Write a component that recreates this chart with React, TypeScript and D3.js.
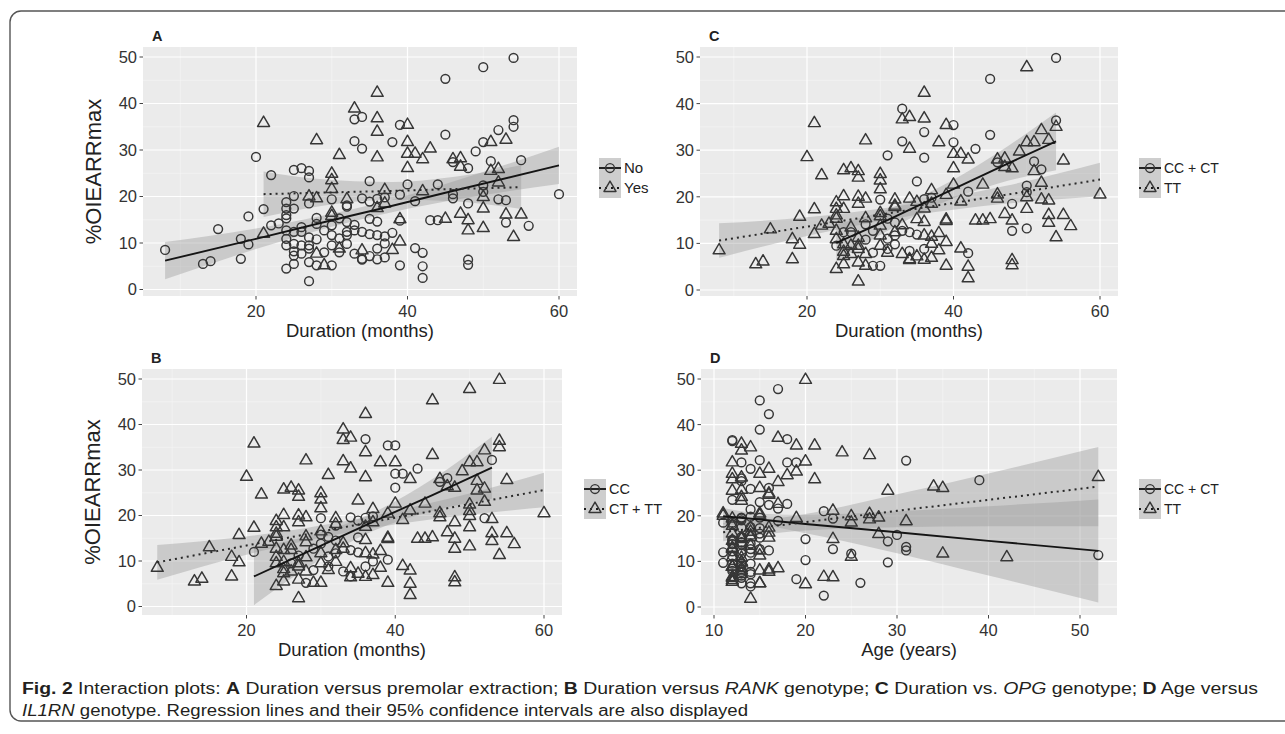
import React from "react";
import * as d3 from "d3";

// ---------- data (one entry per patient) ----------
const duration = [
  8, 13, 14, 15, 18, 18, 19, 19, 20, 21,
  21, 21, 22, 22, 23, 24, 28, 31, 33, 33,
  34, 33, 34, 25, 26, 27, 27, 30, 30, 30,
  30, 32, 32, 27, 28, 27, 24, 24, 25, 24,
  25, 28, 30, 31, 27, 29, 54, 50, 45, 36,
  54, 54, 36, 36, 39, 40, 45, 38, 40, 40,
  41, 43, 42, 36, 40, 52, 53, 50, 51, 49,
  55, 51, 46, 47, 47, 46, 48, 51, 52, 52,
  60, 35, 40, 44, 37, 42, 50, 50, 50, 52,
  53, 46, 34, 35, 36, 36, 37, 39, 41, 48,
  50, 47, 48, 48, 53, 55, 53, 56, 54, 50,
  43, 45, 39, 35, 36, 36, 37, 39, 38, 41,
  42, 42, 42, 39, 48, 48, 34, 35, 36, 37,
  36, 24, 25, 26, 27, 28, 29, 30, 31, 32,
  32, 33, 24, 25, 26, 27, 28, 29, 30, 31,
  32, 33, 34, 25, 26, 27, 28, 30, 24, 25,
  24, 28, 32, 33, 34, 31, 30, 26, 27, 34,
  35, 37, 38, 30, 25, 32, 37, 44, 39, 46,
];
const oiearr = [
  8.5, 5.5, 6.1, 13.0, 6.6, 10.9, 15.7, 9.7, 28.5, 35.8,
  17.3, 12.0, 24.6, 13.8, 14.2, 15.3, 32.1, 28.9, 38.9, 36.6,
  37.1, 31.9, 30.3, 25.7, 26.1, 25.5, 24.1, 24.9, 23.5, 21.6,
  19.4, 19.4, 17.8, 20.0, 19.6, 18.5, 18.8, 17.4, 17.4, 16.0,
  20.1, 15.4, 15.8, 15.3, 1.8, 5.2, 49.8, 47.8, 45.3, 42.3,
  36.4, 35.0, 36.8, 33.9, 35.4, 35.4, 33.3, 31.7, 31.7, 29.2,
  29.2, 30.3, 28.0, 28.4, 26.1, 34.3, 32.2, 31.7, 31.7, 29.7,
  27.8, 27.6, 28.0, 28.2, 26.4, 27.4, 26.1, 25.5, 25.9, 23.0,
  20.5, 23.3, 22.6, 22.6, 21.4, 21.1, 22.4, 21.0, 19.9, 19.4,
  19.2, 19.6, 19.6, 18.9, 19.5, 17.5, 18.5, 20.4, 19.0, 18.5,
  17.4, 16.3, 14.9, 12.7, 16.1, 16.1, 14.4, 13.7, 11.3, 13.2,
  14.9, 15.2, 15.1, 15.2, 14.6, 11.7, 11.4, 10.3, 8.5, 8.9,
  7.9, 5.0, 2.5, 5.2, 6.4, 5.3, 6.4, 7.2, 6.5, 6.9,
  8.8, 12.7, 12.4, 13.4, 11.2, 10.8, 12.7, 11.7, 11.0, 12.4,
  11.7, 12.7, 9.5, 9.8, 9.5, 8.8, 7.7, 8.0, 9.5, 8.8,
  9.8, 7.7, 8.4, 7.3, 7.7, 5.9, 5.2, 5.2, 4.5, 5.5,
  10.9, 14.1, 14.5, 13.9, 12.4, 8.0, 13.8, 12.4, 9.5, 6.6,
  11.9, 9.9, 12.2, 16.5, 8.2, 18.1, 19.8, 14.9, 14.8, 20.5,
];
const age = [
  13, 12, 19, 12, 22, 12, 14, 11, 52, 13,
  15, 11, 16, 12, 13, 14, 31, 18, 15, 12,
  17, 20, 16, 13, 15, 29, 13, 16, 12, 17,
  23, 13, 12, 11, 28, 12, 31, 13, 16, 28,
  15, 13, 30, 13, 14, 14, 20, 17, 15, 16,
  12, 14, 18, 24, 19, 21, 27, 19, 13, 15,
  12, 14, 21, 13, 16, 13, 15, 18, 12, 19,
  39, 13, 12, 13, 34, 17, 35, 12, 14, 15,
  11, 13, 18, 17, 14, 23, 16, 22, 25, 12,
  27, 13, 15, 17, 19, 14, 25, 27, 13, 11,
  14, 16, 20, 23, 12, 15, 29, 13, 15, 31,
  23, 16, 13, 15, 12, 25, 52, 20, 17, 13,
  12, 20, 22, 15, 13, 26, 12, 14, 23, 13,
  12, 12, 13, 14, 12, 13, 15, 13, 25, 31,
  35, 14, 12, 13, 14, 12, 13, 15, 13, 12,
  29, 16, 12, 13, 14, 12, 15, 13, 14, 12,
  42, 13, 12, 14, 16, 13, 12, 15, 13, 12,
  14, 13, 12, 14, 16, 12, 14, 13, 12, 15,
];
// premolar extraction: 0 = No, 1 = Yes
const extraction = [
  0,0,0,0,0,0,0,0,0,1, 0,1,0,0,0,0,1,1,1,0, 0,0,0,0,0,0,0,1,1,1,
  0,1,0,1,1,0,0,0,0,0, 0,0,1,0,0,1,0,0,0,1, 0,0,1,1,0,1,0,0,1,1,
  1,1,1,1,1,0,1,0,1,0, 0,0,1,1,1,0,0,1,1,1, 0,0,0,0,1,1,0,0,1,0,
  0,0,0,0,0,1,1,0,0,0, 1,1,1,1,1,1,0,0,1,1, 0,1,1,0,0,0,0,1,1,0,
  0,0,0,0,0,0,0,0,0,0, 0,0,0,0,0,0,0,0,0,0, 0,0,0,0,0,0,1,0,0,1,
  0,0,1,0,0,0,0,0,0,0, 0,0,0,0,0,0,0,0,0,0, 0,0,0,1,0,0,0,0,0,0,
];
// RANK genotype: 0 = CC, 1 = CT + TT
const rankGenotype = [
  1,1,1,1,1,1,1,1,1,1, 1,0,1,1,1,1,1,1,1,1, 1,1,1,1,1,1,1,1,1,1,
  0,1,0,1,1,1,1,1,1,1, 1,1,0,0,1,1,1,1,1,1, 1,1,0,1,0,0,1,1,1,0,
  0,0,1,1,0,1,0,1,1,1, 1,1,1,0,1,0,1,1,1,1, 1,1,1,1,1,1,1,1,1,0,
  1,1,0,0,0,1,1,1,1,1, 1,1,1,1,1,1,1,1,1,1, 1,1,1,0,1,1,1,0,1,1,
  1,1,1,1,1,1,1,1,1,1, 0,1,1,1,0,1,0,1,0,1, 0,1,1,1,0,1,1,0,1,0,
  1,0,1,1,1,1,0,1,1,1, 1,1,0,1,0,1,0,1,1,0, 0,0,1,1,1,1,0,1,1,1,
];
// OPG genotype: 0 = CC + CT, 1 = TT
const opgGenotype = [
  1,1,1,1,1,1,1,1,1,1, 1,1,1,1,1,1,1,0,0,1, 1,0,1,1,1,1,1,1,1,1,
  0,1,1,1,1,1,1,1,1,1, 1,1,1,0,1,0,0,1,0,1, 0,1,1,0,1,0,0,1,0,1,
  1,0,1,0,1,1,1,1,1,1, 1,0,1,1,1,0,1,1,0,1, 1,0,1,1,1,0,0,0,1,1,
  1,1,1,1,0,1,1,1,1,0, 1,1,1,0,1,1,1,1,1,0, 1,1,1,1,1,1,1,1,1,1,
  0,1,1,1,1,1,1,1,1,1, 0,1,0,1,1,0,0,1,0,1, 0,0,0,1,1,1,1,0,1,0,
  0,1,0,1,1,1,1,0,1,1, 1,0,0,1,0,1,1,0,1,1, 0,1,1,1,1,1,0,1,1,1,
];
// IL1RN genotype: 0 = CC + CT, 1 = TT
const il1rnGenotype = [
  1,1,0,1,1,1,1,0,1,1, 0,0,1,0,0,1,0,1,0,0, 1,1,1,1,1,1,1,1,0,0,
  0,0,1,1,1,0,1,0,1,1, 1,0,0,0,1,0,1,0,0,0, 0,1,0,1,1,1,1,0,0,1,
  1,0,1,1,0,1,0,0,1,1, 0,0,1,0,1,1,1,1,0,0, 1,1,0,1,0,1,0,0,1,1,
  1,0,0,0,1,0,1,1,0,0, 1,1,0,0,1,0,0,0,1,0, 1,1,1,0,0,0,0,0,1,0,
  0,1,0,1,0,0,1,0,1,0, 1,1,0,1,0,1,0,0,1,0, 1,0,0,1,0,1,0,1,0,1,
  0,1,0,1,0,1,1,0,0,1, 1,0,1,0,0,1,0,1,0,1, 0,1,0,1,1,0,0,1,0,1,
];

const durationTicks = [20, 40, 60];
const ageTicks = [10, 20, 30, 40, 50];
const oiearrTicks = [0, 10, 20, 30, 40, 50];

// fitted regression lines with 95% CI: [x, fit, lower, upper]
type Fit = [number, number, number, number][];
const fitExtractionNo: Fit = [[8, 6.2, 2.2, 10.2], [20, 10.9, 8.7, 13.1], [30, 14.9, 13.5, 16.3], [36, 17.2, 15.9, 18.5], [45, 20.8, 18.9, 22.7], [60, 26.7, 22.7, 30.7]];
const fitExtractionYes: Fit = [[21, 20.5, 15.6, 25.4], [28, 20.8, 17.8, 23.8], [38, 21.2, 19.3, 23.1], [46, 21.6, 19.0, 24.2], [55, 22.0, 17.3, 26.7]];
const fitRankCC: Fit = [[21, 6.6, 0.3, 12.9], [29, 12.6, 9.4, 15.8], [37, 18.6, 16.6, 20.6], [45, 24.5, 21.0, 28.0], [53, 30.5, 23.7, 37.3]];
const fitRankCTTT: Fit = [[8, 9.7, 5.9, 13.5], [20, 13.4, 11.4, 15.4], [35, 18.0, 16.7, 19.3], [47, 21.6, 19.6, 23.6], [60, 25.6, 21.8, 29.4]];
const fitOpgCCCT: Fit = [[24, 10.1, 6.1, 14.1], [31, 15.0, 12.7, 17.3], [38, 20.2, 18.4, 22.0], [46, 26.1, 22.8, 29.4], [54, 31.9, 25.7, 38.1]];
const fitOpgTT: Fit = [[8, 10.6, 6.9, 14.3], [20, 13.6, 11.6, 15.6], [34, 17.2, 15.9, 18.4], [47, 20.4, 18.5, 22.3], [60, 23.7, 20.1, 27.3]];
const fitIl1rnCCCT: Fit = [[11, 19.9, 18.1, 21.7], [15, 19.2, 17.9, 20.5], [20, 18.2, 16.2, 20.2], [30, 16.4, 11.8, 21.0], [40, 14.5, 6.9, 22.1], [52, 12.3, 1.0, 23.6]];
const fitIl1rnTT: Fit = [[11, 16.4, 14.4, 18.4], [15, 17.4, 15.8, 19.0], [20, 18.6, 16.8, 20.4], [30, 21.1, 17.5, 24.7], [40, 23.5, 17.7, 29.3], [52, 26.4, 17.7, 35.1]];

// ---------- styling ----------
const FONT = "Arial, 'Liberation Sans', Helvetica, sans-serif";
const PANEL_BG = "#ebebeb";
const RIBBON = "#999999";
const RIBBON_OP = 0.4;
const POINT_STROKE = "#363636";
const TRI = "M0,-6.9L6,3.45L-6,3.45Z";

interface PanelSpec {
  label: string;
  x0: number; x1: number; y0: number; y1: number;
  xTicks: number[]; xPix: [number, number]; yPix: [number, number];
  xs: number[]; groups: number[];
  fits: [Fit, Fit];
  legend: [string, string]; legX: number; legY: number; legFont: number;
  xTitle: string; yTitle?: string;
}

function Marker({ cx, cy, g }: { cx: number; cy: number; g: number }) {
  return g === 0 ? (
    <circle cx={cx} cy={cy} r={4.4} fill="none" stroke={POINT_STROKE} strokeWidth={1.45} />
  ) : (
    <path d={TRI} transform={`translate(${cx},${cy})`} fill="none" stroke={POINT_STROKE} strokeWidth={1.45} strokeLinejoin="round" />
  );
}

function Panel(p: PanelSpec) {
  const x = d3.scaleLinear().domain([p.xTicks[0], p.xTicks[p.xTicks.length - 1]]).range(p.xPix);
  const y = d3.scaleLinear().domain([0, 50]).range(p.yPix);
  const xStep = p.xTicks[1] - p.xTicks[0];
  const xMinor = d3.range(p.xTicks[0] - xStep / 2, p.xTicks[p.xTicks.length - 1] + xStep, xStep)
    .filter((v) => x(v) > p.x0 && x(v) < p.x1);
  const yMinor = d3.range(-5, 60, 10).filter((v) => y(v) > p.y0 && y(v) < p.y1);
  const area = d3.area<[number, number, number, number]>()
    .x((d) => x(d[0])).y0((d) => y(d[2])).y1((d) => y(d[3])).curve(d3.curveMonotoneX);
  const line = d3.line<[number, number, number, number]>().x((d) => x(d[0])).y((d) => y(d[1]));
  const idx = d3.range(p.xs.length);
  const cx = (p.x0 + p.x1) / 2;
  const cy = (p.y0 + p.y1) / 2;
  const keyW = 22, keyH = 20;
  return (
    <g>
      <text x={p.x0 + 9} y={p.y0 - 6} fontFamily={FONT} fontWeight="bold" fontSize={14.5} fill="#222">{p.label}</text>
      <rect x={p.x0} y={p.y0} width={p.x1 - p.x0} height={p.y1 - p.y0} fill={PANEL_BG} />
      {xMinor.map((v) => <line key={"xm" + v} x1={x(v)} x2={x(v)} y1={p.y0} y2={p.y1} stroke="#f7f7f7" strokeWidth={0.6} />)}
      {yMinor.map((v) => <line key={"ym" + v} x1={p.x0} x2={p.x1} y1={y(v)} y2={y(v)} stroke="#f7f7f7" strokeWidth={0.6} />)}
      {p.xTicks.map((v) => <line key={"xM" + v} x1={x(v)} x2={x(v)} y1={p.y0} y2={p.y1} stroke="#fff" strokeWidth={1.2} />)}
      {oiearrTicks.map((v) => <line key={"yM" + v} x1={p.x0} x2={p.x1} y1={y(v)} y2={y(v)} stroke="#fff" strokeWidth={1.2} />)}
      {p.fits.map((f, i) => <path key={"rb" + i} d={area(f) || ""} fill={RIBBON} fillOpacity={RIBBON_OP} />)}
      {idx.map((i) => <Marker key={"pt" + i} cx={x(p.xs[i])} cy={y(oiearr[i])} g={p.groups[i]} />)}
      <path d={line(p.fits[0]) || ""} fill="none" stroke="#151515" strokeWidth={1.9} />
      <path d={line(p.fits[1]) || ""} fill="none" stroke="#2a2a2a" strokeWidth={2} strokeDasharray="2 4" />
      {p.xTicks.map((v) => (
        <g key={"xt" + v}>
          <line x1={x(v)} x2={x(v)} y1={p.y1} y2={p.y1 + 3.5} stroke="#444" strokeWidth={1} />
          <text x={x(v)} y={p.y1 + 21} textAnchor="middle" fontFamily={FONT} fontSize={16.5} fill="#333">{v}</text>
        </g>
      ))}
      {oiearrTicks.map((v) => (
        <g key={"yt" + v}>
          <line x1={p.x0 - 3.5} x2={p.x0} y1={y(v)} y2={y(v)} stroke="#444" strokeWidth={1} />
          <text x={p.x0 - 6} y={y(v)} dy="0.36em" textAnchor="end" fontFamily={FONT} fontSize={16.5} fill="#333">{v}</text>
        </g>
      ))}
      <text x={cx} y={p.y1 + 41} textAnchor="middle" fontFamily={FONT} fontSize={18.5} fill="#222">{p.xTitle}</text>
      {p.yTitle ? (
        <text transform={`translate(${p.x0 - 42},${cy}) rotate(-90)`} textAnchor="middle" fontFamily={FONT} fontSize={22} fill="#222">{p.yTitle}</text>
      ) : null}
      {[0, 1].map((g) => {
        const ky = p.legY + g * keyH;
        const mid = ky + keyH / 2;
        return (
          <g key={"lg" + g}>
            <rect x={p.legX} y={ky} width={keyW} height={keyH} fill="#f2f2f2" />
            <rect x={p.legX} y={ky} width={keyW} height={keyH} fill={RIBBON} fillOpacity={RIBBON_OP} />
            <line x1={p.legX} x2={p.legX + keyW} y1={mid} y2={mid} stroke="#1a1a1a" strokeWidth={g === 0 ? 1.9 : 2}
              strokeDasharray={g === 0 ? undefined : "2 4"} />
            <Marker cx={p.legX + keyW / 2} cy={mid} g={g} />
            <text x={p.legX + keyW + 3} y={mid} dy="0.36em" fontFamily={FONT} fontSize={p.legFont} fill="#222">{p.legend[g]}</text>
          </g>
        );
      })}
    </g>
  );
}

const CAP_FONT = "Arial, 'Liberation Sans', sans-serif";

export default function App() {
  const panels: PanelSpec[] = [
    {
      label: "A", x0: 143, x1: 577, y0: 47, y1: 296, xTicks: durationTicks, xPix: [256, 559], yPix: [289.5, 57],
      xs: duration, groups: extraction, fits: [fitExtractionNo, fitExtractionYes],
      legend: ["No", "Yes"], legX: 599, legY: 158, legFont: 15, xTitle: "Duration (months)", yTitle: "%OIEARRmax",
    },
    {
      label: "B", x0: 142, x1: 562, y0: 369, y1: 615, xTicks: durationTicks, xPix: [246.5, 544], yPix: [606.5, 379],
      xs: duration, groups: rankGenotype, fits: [fitRankCC, fitRankCTTT],
      legend: ["CC", "CT + TT"], legX: 584, legY: 479, legFont: 14.5, xTitle: "Duration (months)", yTitle: "%OIEARRmax",
    },
    {
      label: "C", x0: 700, x1: 1118, y0: 47, y1: 296, xTicks: durationTicks, xPix: [807, 1100], yPix: [290, 57],
      xs: duration, groups: opgGenotype, fits: [fitOpgCCCT, fitOpgTT],
      legend: ["CC + CT", "TT"], legX: 1139, legY: 158, legFont: 14, xTitle: "Duration (months)",
    },
    {
      label: "D", x0: 701, x1: 1117, y0: 369, y1: 615, xTicks: ageTicks, xPix: [714, 1080], yPix: [607, 379],
      xs: age, groups: il1rnGenotype, fits: [fitIl1rnCCCT, fitIl1rnTT],
      legend: ["CC + CT", "TT"], legX: 1139, legY: 479, legFont: 14, xTitle: "Age (years)",
    },
  ];
  return (
    <svg width={1285} height={734} style={{ position: "absolute", left: 0, top: 0, display: "block", background: "#fff" }}>
      <rect x={10} y={11} width={1300} height={710} rx={11} fill="#fff" stroke="#555" strokeWidth={1.4} />
      {panels.map((p) => <Panel key={p.label} {...p} />)}
      <text x={22} y={694} fontFamily={CAP_FONT} fontSize={16} fill="#231f20" textLength={1236} lengthAdjust="spacingAndGlyphs">
        <tspan fontWeight="bold">Fig. 2</tspan>
        <tspan>{"  Interaction plots: "}</tspan>
        <tspan fontWeight="bold">A</tspan>
        <tspan>{" Duration versus premolar extraction; "}</tspan>
        <tspan fontWeight="bold">B</tspan>
        <tspan>{" Duration versus "}</tspan>
        <tspan fontStyle="italic">RANK</tspan>
        <tspan>{" genotype; "}</tspan>
        <tspan fontWeight="bold">C</tspan>
        <tspan>{" Duration vs. "}</tspan>
        <tspan fontStyle="italic">OPG</tspan>
        <tspan>{" genotype; "}</tspan>
        <tspan fontWeight="bold">D</tspan>
        <tspan>{" Age versus"}</tspan>
      </text>
      <text x={22} y={716} fontFamily={CAP_FONT} fontSize={16} fill="#231f20" textLength={726} lengthAdjust="spacingAndGlyphs">
        <tspan fontStyle="italic">IL1RN</tspan>
        <tspan>{" genotype. Regression lines and their 95% confidence intervals are also displayed"}</tspan>
      </text>
    </svg>
  );
}
